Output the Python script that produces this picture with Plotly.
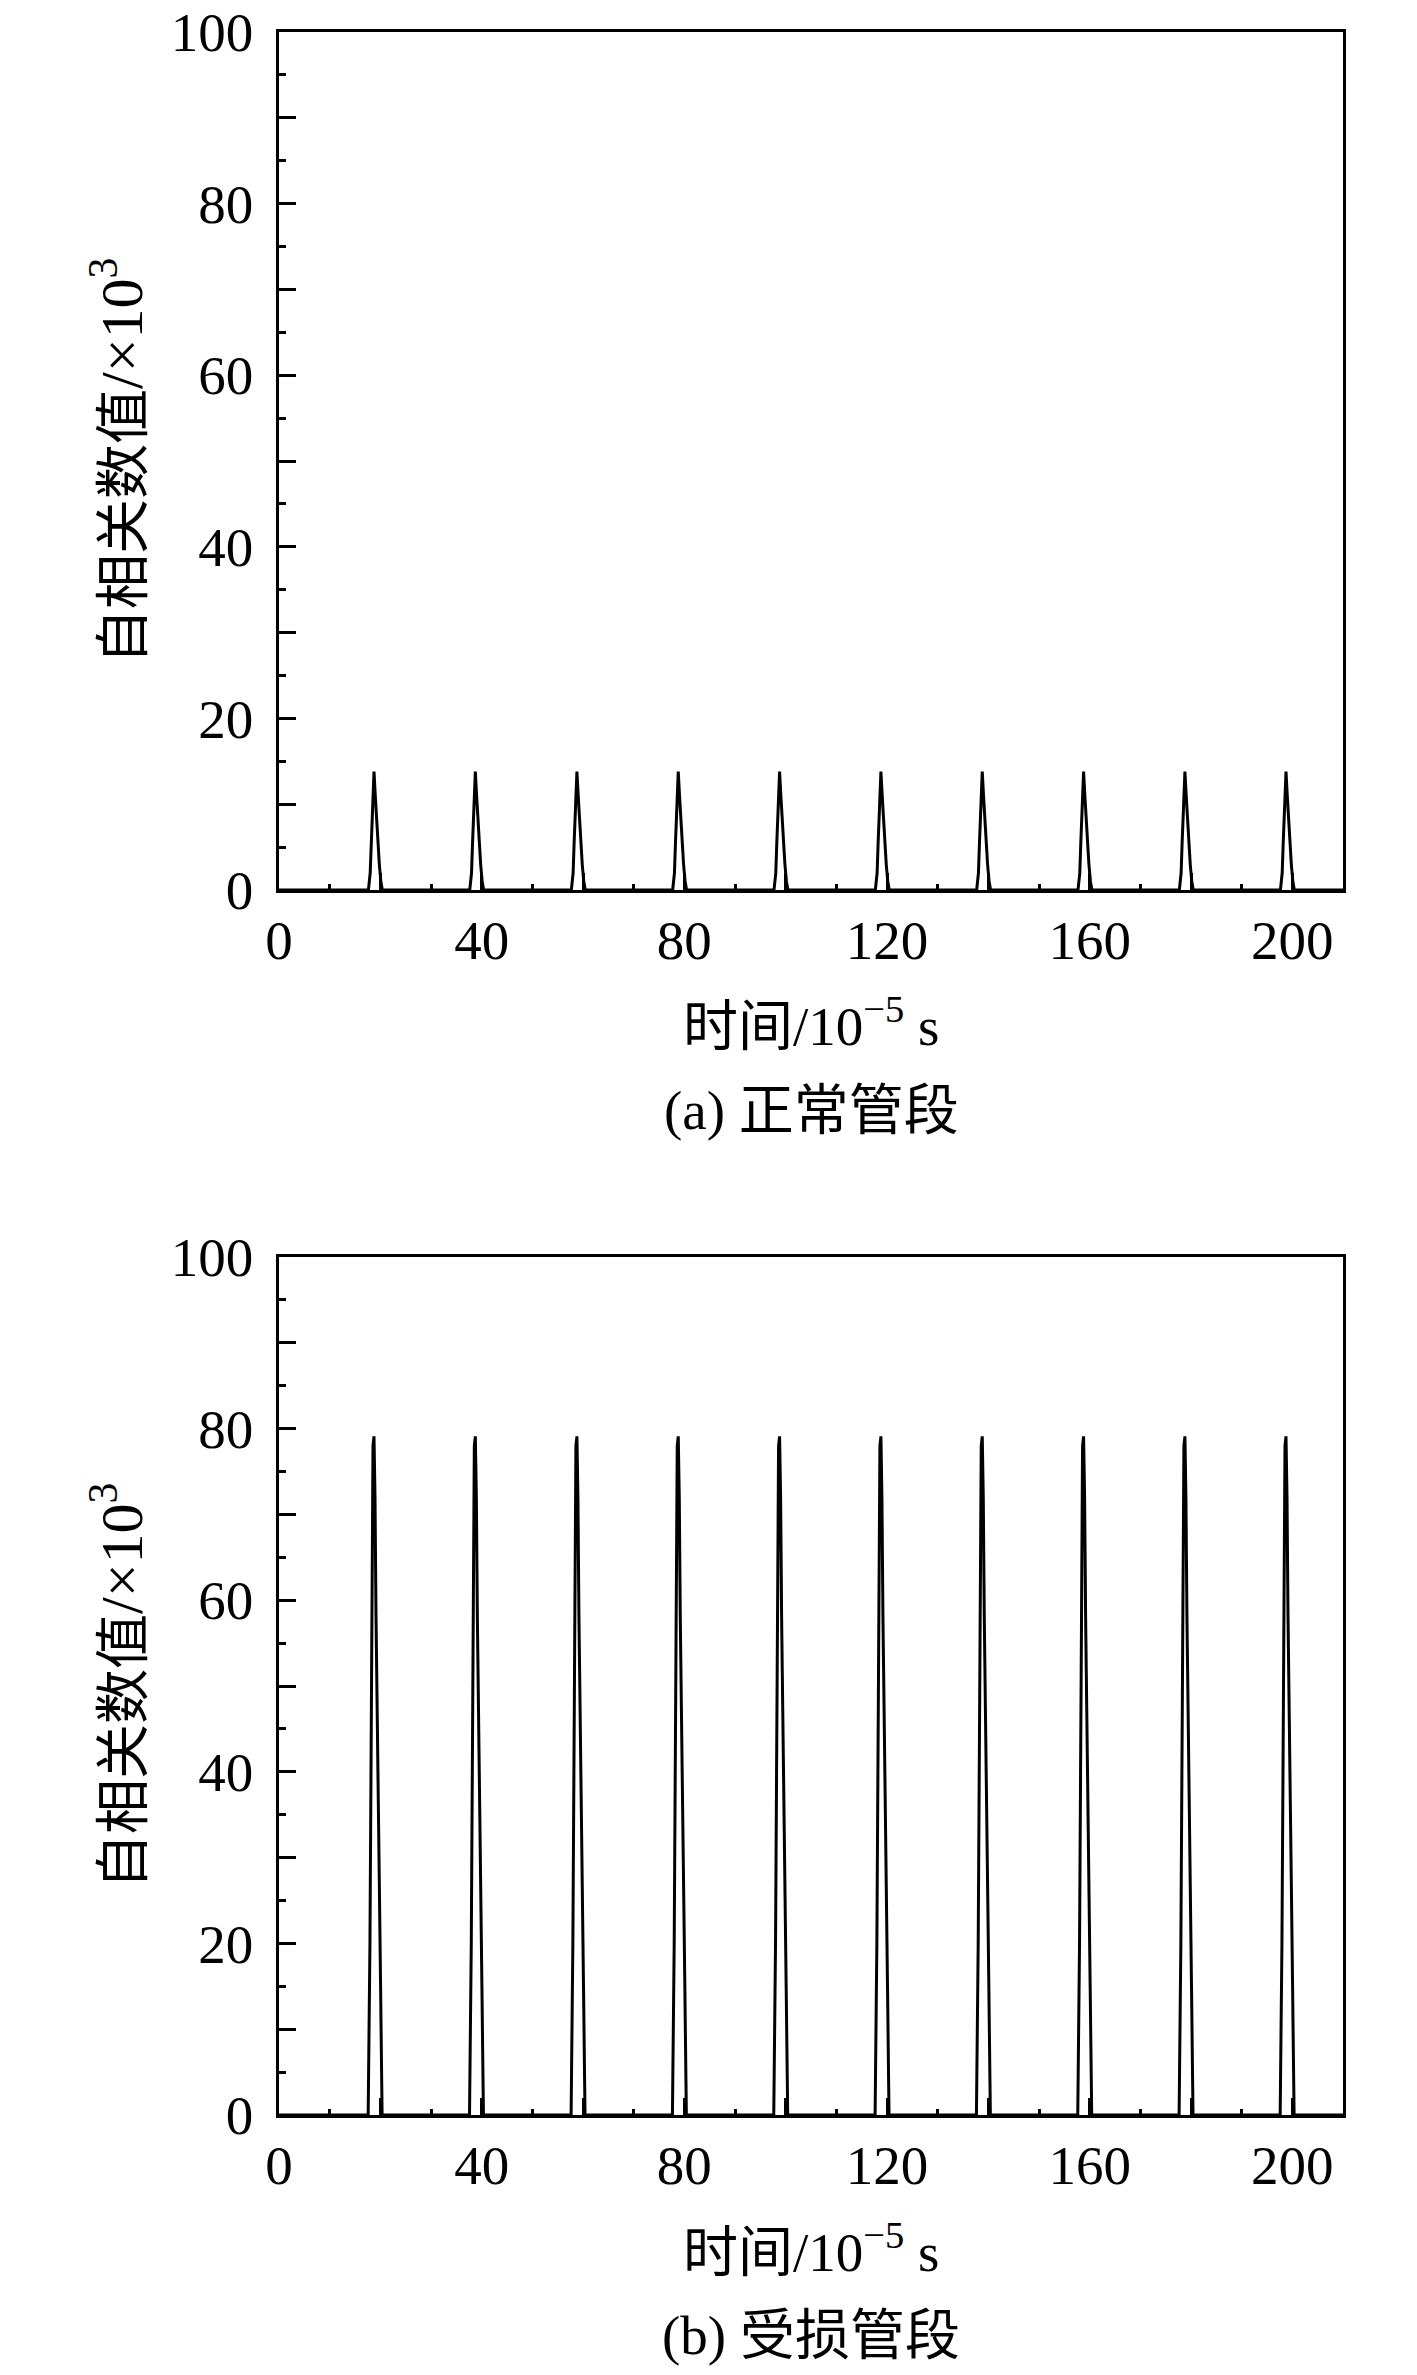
import plotly.graph_objects as go

# 自相关曲线 · 正常管段 / 受损管段

W, H = 1417, 2375
FONT = "Liberation Serif, Noto Sans CJK SC, serif"
FS = 55
LW = 2.6      # 坐标轴
LW_TRACE = 3.0

# 峰值位置 (10^-5 s)，读自原图
PEAK_TIMES = [18.75, 38.75, 58.8, 78.8, 98.8, 118.8, 138.8, 158.8, 178.8, 198.75]

# 单个峰的形状：相对峰顶的时间偏移 与 数值 (×10^3)
PROFILE_A_DT = [-1.1, -0.75, -0.55, -0.35, -0.1, 0.0, 0.25, 0.55, 1.05, 1.35, 1.65]
PROFILE_A_Y = [0.0, 2.0, 5.5, 9.5, 13.6, 13.8, 11.0, 7.5, 3.0, 1.0, 0.0]
PROFILE_B_DT = [-1.15, -0.8, -0.45, -0.2, 0.0, 0.2, 0.4, 0.65, 1.05, 1.3, 1.52, 1.6]
PROFILE_B_Y = [0.0, 20.0, 54.0, 78.0, 79.1, 72.0, 58.0, 44.0, 29.0, 15.0, 4.0, 0.0]

T_START, T_END = 0.0, 210.0

X_MAJOR = [0, 20, 40, 60, 80, 100, 120, 140, 160, 180, 200]
X_LABELS = ["0", "", "40", "", "80", "", "120", "", "160", "", "200"]
X_MINOR = [10, 30, 50, 70, 90, 110, 130, 150, 170, 190]
Y_MAJOR = [0, 10, 20, 30, 40, 50, 60, 70, 80, 90, 100]
Y_LABELS = ["0", "", "20", "", "40", "", "60", "", "80", "", "100"]
Y_MINOR = [5, 15, 25, 35, 45, 55, 65, 75, 85, 95]

Y_TITLE = "自相关数值<span style='font-size:60px'>/×10<sup>3</sup></span>"
X_TITLE = "时间/10<sup>−5</sup> s"
CAPTIONS = ["(a) 正常管段", "(b) 受损管段"]

# 版面 (像素)
PX_L, PX_R = 279, 1343
PANELS = [(32, 890), (1257, 2115)]   # (top, bottom)


def _series(dt, vals):
    xs, ys = [T_START], [0.0]
    for t in PEAK_TIMES:
        xs += [t + d for d in dt]
        ys += vals
    xs.append(T_END)
    ys.append(0.0)
    return xs, ys


def _py(p):
    return 1 - p / H


def _axis_common():
    return dict(
        showline=True, linecolor="black", linewidth=LW, mirror=True,
        ticks="inside", tickcolor="black", tickwidth=LW, ticklen=17,
        showgrid=False, zeroline=False, tickmode="array", automargin=False,
        tickfont=dict(family=FONT, size=FS, color="black"),
    )


fig = go.Figure()

for i, (dt, vals) in enumerate([(PROFILE_A_DT, PROFILE_A_Y), (PROFILE_B_DT, PROFILE_B_Y)]):
    xs, ys = _series(dt, vals)
    sfx = "" if i == 0 else "2"
    fig.add_trace(go.Scatter(
        x=xs, y=ys, mode="lines",
        line=dict(color="black", width=LW_TRACE),
        xaxis="x" + sfx, yaxis="y" + sfx,
        showlegend=False, hoverinfo="skip",
    ))

layout = dict(
    width=W, height=H,
    margin=dict(l=0, r=0, t=0, b=0, pad=0, autoexpand=False),
    paper_bgcolor="white", plot_bgcolor="white",
    font=dict(family=FONT, size=FS, color="black"),
    showlegend=False,
)

annotations = []
for i, (top, bot) in enumerate(PANELS):
    sfx = "" if i == 0 else str(i + 1)
    xa = _axis_common()
    xa.update(
        domain=[PX_L / W, PX_R / W], anchor="y" + sfx, range=[T_START, T_END],
        tickvals=X_MAJOR, ticktext=X_LABELS, ticklabelstandoff=0,
        minor=dict(tickmode="array", tickvals=X_MINOR, ticks="inside",
                   ticklen=6, tickwidth=LW, tickcolor="black"),
    )
    ya = _axis_common()
    ya.update(
        domain=[_py(bot), _py(top)], anchor="x" + sfx, range=[0, 100],
        tickvals=Y_MAJOR, ticktext=Y_LABELS, ticklabelstandoff=12,
        minor=dict(tickmode="array", tickvals=Y_MINOR, ticks="inside",
                   ticklen=7, tickwidth=LW, tickcolor="black"),
    )
    layout["xaxis" + sfx] = xa
    layout["yaxis" + sfx] = ya

    cx = (PX_L + PX_R) / 2 / W
    annotations += [
        dict(x=117 / W, y=_py((top + bot) / 2), text=Y_TITLE, textangle=-90,
             xref="paper", yref="paper", showarrow=False,
             xanchor="center", yanchor="middle"),
        dict(x=cx, y=_py(bot + 133), text=X_TITLE,
             xref="paper", yref="paper", showarrow=False,
             xanchor="center", yanchor="middle"),
        dict(x=cx, y=_py(bot + 220), text=CAPTIONS[i],
             xref="paper", yref="paper", showarrow=False,
             xanchor="center", yanchor="middle"),
    ]

layout["annotations"] = annotations
fig.update_layout(**layout)

fig.write_html(
    "out.html",
    config={"displayModeBar": False},
    post_script="document.body.style.margin='0px';",
)
